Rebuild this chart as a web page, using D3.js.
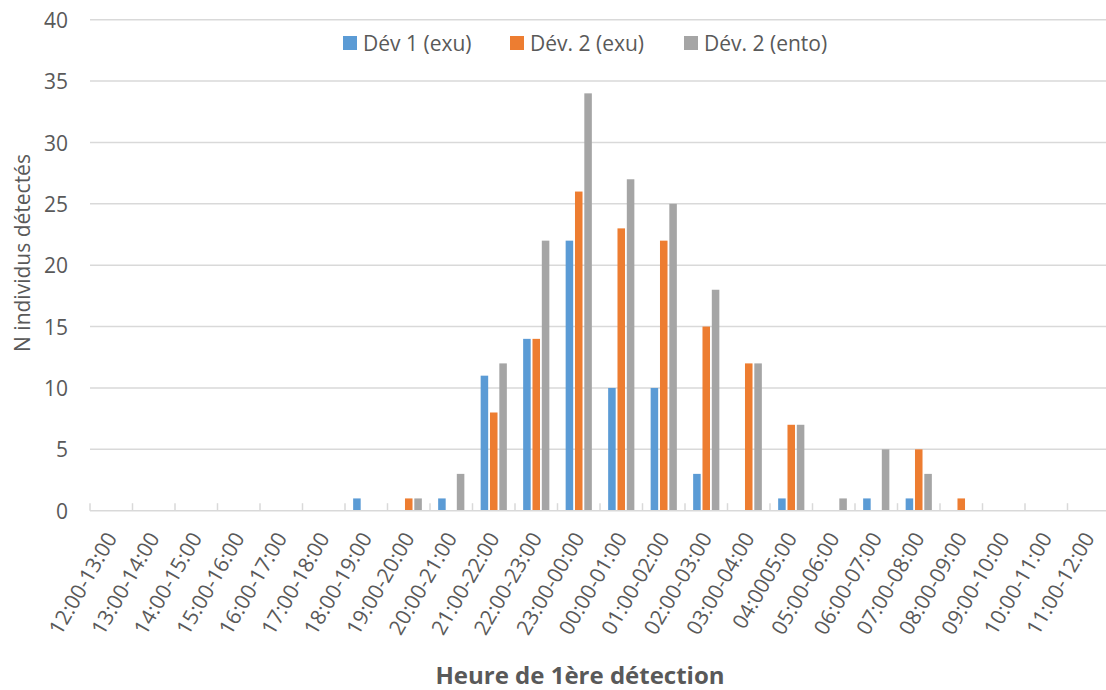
<!DOCTYPE html>
<html>
<head>
<meta charset="utf-8">
<script src="https://cdn.jsdelivr.net/npm/d3@7"></script>
<style>
  html, body { margin: 0; padding: 0; background: #ffffff; }
  svg { display: block; font-family: "Open Sans", "Noto Sans", sans-serif; }
</style>
</head>
<body>
<svg id="chart" width="1106" height="690"></svg>
<script>
// Hourly slots of first detection
const categories = [
  "12:00-13:00", "13:00-14:00", "14:00-15:00", "15:00-16:00", "16:00-17:00",
  "17:00-18:00", "18:00-19:00", "19:00-20:00", "20:00-21:00", "21:00-22:00",
  "22:00-23:00", "23:00-00:00", "00:00-01:00", "01:00-02:00", "02:00-03:00",
  "03:00-04:00", "04:0005:00", "05:00-06:00", "06:00-07:00", "07:00-08:00",
  "08:00-09:00", "09:00-10:00", "10:00-11:00", "11:00-12:00"
];

const seriesNames = ["Dév 1 (exu)", "Dév. 2 (exu)", "Dév. 2 (ento)"];
const seriesColors = ["#5B9BD5", "#ED7D31", "#A5A5A5"];

const dev1Exu  = [0, 0, 0, 0, 0, 0, 1, 0, 1, 11, 14, 22, 10, 10, 3, 0, 1, 0, 1, 1, 0, 0, 0, 0];
const dev2Exu  = [0, 0, 0, 0, 0, 0, 0, 1, 0, 8, 14, 26, 23, 22, 15, 12, 7, 0, 0, 5, 1, 0, 0, 0];
const dev2Ento = [0, 0, 0, 0, 0, 0, 0, 1, 3, 12, 22, 34, 27, 25, 18, 12, 7, 1, 5, 3, 0, 0, 0, 0];

const yTicks = [0, 5, 10, 15, 20, 25, 30, 35, 40];

const seriesValues = [dev1Exu, dev2Exu, dev2Ento];
const rows = categories.map((c, i) => ({
  cat: c,
  values: seriesValues.map((vals, s) => ({ key: seriesNames[s], value: vals[i], s }))
}));

const svg = d3.select("#chart");
const textColor = "#595959";
const gridColor = "#D9D9D9";

const plot = { left: 90, right: 1110, top: 19.7, bottom: 510.7 };

const x0 = d3.scaleBand().domain(categories).range([plot.left, plot.right]).paddingInner(0).paddingOuter(0);
const y = d3.scaleLinear().domain([0, 40]).range([plot.bottom, plot.top]);

// inner band for the three series inside each hour slot
const groupHalf = 14;
const x1 = d3.scaleBand().domain(seriesNames).range([-groupHalf, groupHalf]).padding(0);
const barGap = 1.8;

// horizontal gridlines
svg.append("g")
  .selectAll("line")
  .data(yTicks.filter(t => t > 0))
  .join("line")
  .attr("x1", plot.left)
  .attr("x2", plot.right)
  .attr("y1", d => y(d))
  .attr("y2", d => y(d))
  .attr("stroke", gridColor)
  .attr("stroke-width", 1.5);

// y axis labels
const yAxis = d3.axisLeft(y).tickValues(yTicks).tickSize(0).tickPadding(0);
const gy = svg.append("g").attr("transform", `translate(68,0)`).call(yAxis);
gy.select(".domain").remove();
gy.selectAll("text")
  .attr("fill", textColor)
  .attr("font-size", "21px")
  .attr("font-family", "'Open Sans', sans-serif")
  .attr("dy", "0.36em");

// bars
const groups = svg.append("g")
  .selectAll("g")
  .data(rows)
  .join("g")
  .attr("transform", d => `translate(${x0(d.cat) + x0.bandwidth() / 2},0)`);

groups.selectAll("rect")
  .data(d => d.values.filter(v => v.value > 0))
  .join("rect")
  .attr("x", d => x1(d.key) + barGap / 2)
  .attr("width", x1.bandwidth() - barGap)
  .attr("y", d => y(d.value))
  .attr("height", d => y(0) - y(d.value))
  .attr("fill", d => seriesColors[d.s]);

// category axis: baseline with inward tick marks at slot boundaries
const gx = svg.append("g").attr("transform", `translate(0,${plot.bottom})`);
gx.append("line")
  .attr("x1", plot.left).attr("x2", plot.right)
  .attr("y1", 0).attr("y2", 0)
  .attr("stroke", gridColor).attr("stroke-width", 1.5);
const boundaries = d3.range(categories.length + 1).map(i => plot.left + i * x0.step());
gx.selectAll("line.tick")
  .data(boundaries)
  .join("line")
  .attr("class", "tick")
  .attr("x1", d => d).attr("x2", d => d)
  .attr("y1", 0).attr("y2", -7.5)
  .attr("stroke", gridColor).attr("stroke-width", 1.5);

// rotated category labels
svg.append("g")
  .selectAll("text")
  .data(categories)
  .join("text")
  .attr("transform", d => `translate(${x0(d) + x0.bandwidth() / 2},534) rotate(-60)`)
  .attr("text-anchor", "end")
  .attr("dy", "0.36em")
  .attr("fill", textColor)
  .attr("font-size", "21px")
  .text(d => d);

// axis titles
svg.append("text")
  .attr("transform", "translate(30,253) rotate(-90)")
  .attr("text-anchor", "middle")
  .attr("fill", textColor)
  .attr("font-size", "21px")
  .text("N individus détectés");

svg.append("text")
  .attr("x", 580)
  .attr("y", 684)
  .attr("text-anchor", "middle")
  .attr("fill", textColor)
  .attr("font-size", "24px")
  .attr("font-weight", "bold")
  .text("Heure de 1ère détection");

// legend
const legendX = [343, 510, 684];
const legend = svg.append("g")
  .selectAll("g")
  .data(seriesNames)
  .join("g")
  .attr("transform", (d, i) => `translate(${legendX[i]},36)`);
legend.append("rect")
  .attr("width", 14).attr("height", 14)
  .attr("fill", (d, i) => seriesColors[i]);
legend.append("text")
  .attr("x", 20)
  .attr("y", 7)
  .attr("dy", "0.36em")
  .attr("fill", textColor)
  .attr("font-size", "21px")
  .text(d => d);
</script>
</body>
</html>
